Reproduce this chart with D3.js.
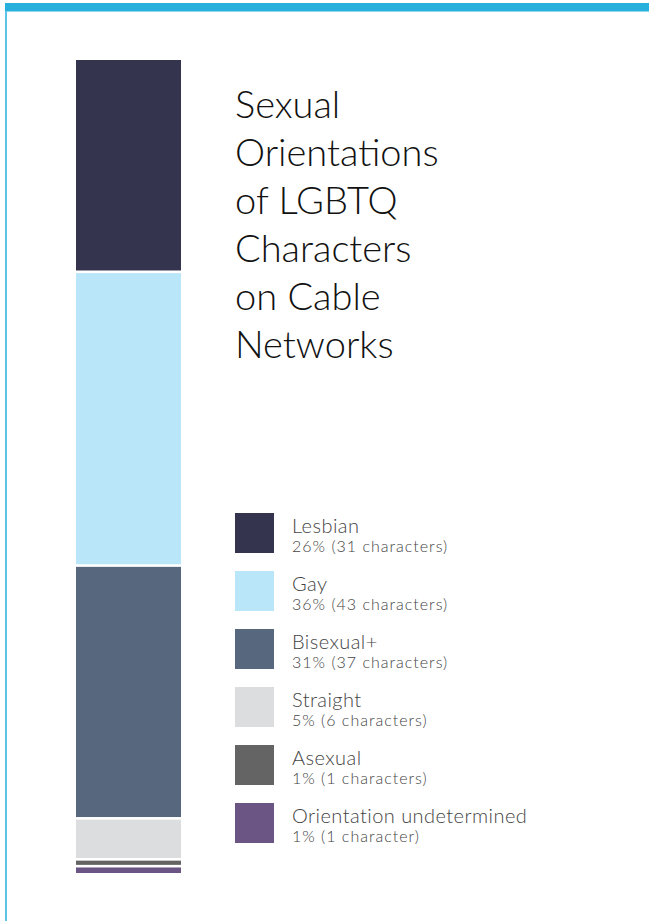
<!DOCTYPE html>
<html>
<head>
<meta charset="utf-8">
<script src="https://cdn.jsdelivr.net/npm/d3@7"></script>
<style>
  body { margin: 0; background: #fff; }
  svg { display: block; }
</style>
</head>
<body>
<div id="chart"></div>
<script>
// chart data
var orientations = ["Lesbian", "Gay", "Bisexual+", "Straight", "Asexual", "Orientation undetermined"];
var counts = [31, 43, 37, 6, 1, 1];
var percentLabels = ["26% (31 characters)", "36% (43 characters)", "31% (37 characters)",
                     "5% (6 characters)", "1% (1 characters)", "1% (1 character)"];
var colours = ["#35344f", "#bae6f9", "#57677e", "#dcdddf", "#646464", "#6a5585"];
var titleLines = ["Sexual", "Orientations", "of LGBTQ", "Characters", "on Cable", "Networks"];

function init(){

    var w = 649;
    var h = 921;

    var svg = d3.select("#chart")
                .append("svg")
                .attr("width", w)
                .attr("height", h);

    // frame: blue top strip and thin left line
    svg.append("rect")
        .attr("x", 5).attr("y", 3)
        .attr("width", w - 5).attr("height", 8.5)
        .attr("fill", "#27b0dc");
    svg.append("rect")
        .attr("x", 5).attr("y", 11)
        .attr("width", 2).attr("height", h - 11)
        .attr("fill", "#5ec3e8");

    // stacked column
    var stack = [];
    var total = 0;
    counts.forEach(function(c, i){
        stack.push({name: orientations[i], start: total, end: total + c, colour: colours[i]});
        total += c;
    });

    var y = d3.scaleLinear()
              .domain([0, total])
              .range([60, 873]);

    var x = d3.scaleBand()
              .domain(["all"])
              .range([76, 181]);

    var gap = 1.3; // white gap between segments

    svg.selectAll("rect.seg")
        .data(stack)
        .enter()
        .append("rect")
        .attr("class", "seg")
        .attr("x", x("all"))
        .attr("y", function(d, i) { return y(d.start) + (i > 0 ? gap : 0); })
        .attr("width", x.bandwidth())
        .attr("height", function(d, i) {
            var top = y(d.start) + (i > 0 ? gap : 0);
            var bottom = y(d.end) - (i < stack.length - 1 ? gap : 0);
            return Math.max(bottom - top, 1);
        })
        .attr("fill", function(d) { return d.colour; });

    // title
    svg.append("text")
        .attr("x", 235)
        .attr("y", 118)
        .attr("font-family", "Lato, sans-serif")
        .attr("font-weight", 300)
        .attr("font-size", "38px")
        .attr("fill", "#111")
        .selectAll("tspan")
        .data(titleLines)
        .enter()
        .append("tspan")
        .attr("x", 235)
        .attr("dy", function(d, i) { return i === 0 ? 0 : 48; })
        .text(function(d) { return d; });

    // legend
    var rowY = d3.scaleBand()
                 .domain(orientations)
                 .range([513, 513 + 58 * orientations.length]);

    var legend = svg.selectAll("g.legend")
        .data(orientations)
        .enter()
        .append("g")
        .attr("class", "legend")
        .attr("transform", function(d) { return "translate(0," + rowY(d) + ")"; });

    legend.append("rect")
        .attr("x", 235)
        .attr("y", 0)
        .attr("width", 39)
        .attr("height", 40)
        .attr("fill", function(d, i) { return colours[i]; });

    legend.append("text")
        .attr("x", 292)
        .attr("y", 20)
        .attr("font-family", "Lato, sans-serif")
        .attr("font-weight", 300)
        .attr("font-size", "20px")
        .attr("letter-spacing", "0.45px")
        .attr("fill", "#444")
        .text(function(d) { return d; });

    legend.append("text")
        .attr("x", 292)
        .attr("y", 39)
        .attr("font-family", "Lato, sans-serif")
        .attr("font-weight", 300)
        .attr("font-size", "16px")
        .attr("letter-spacing", "1px")
        .attr("fill", "#444")
        .text(function(d, i) { return percentLabels[i]; });
}

window.onload = init;
</script>
</body>
</html>
